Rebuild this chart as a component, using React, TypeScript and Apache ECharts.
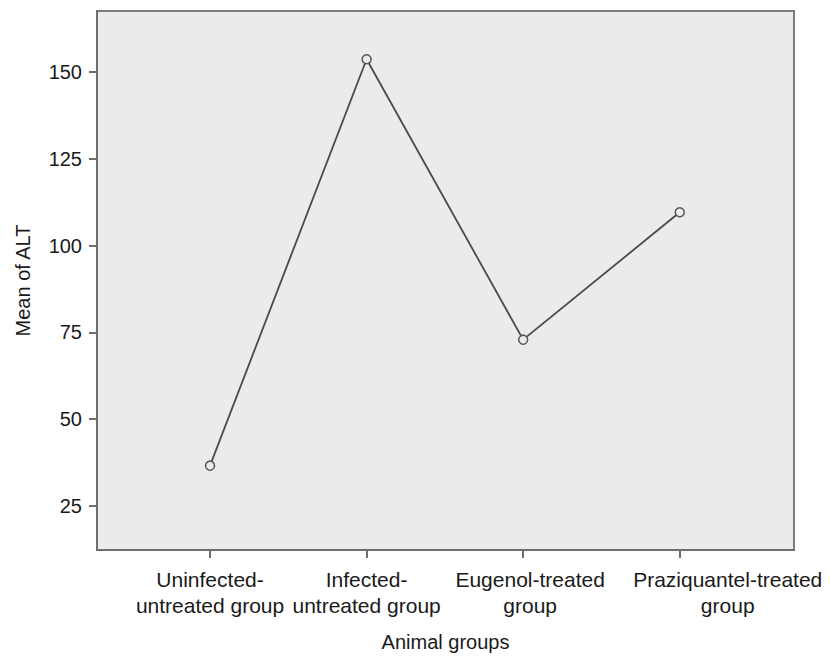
import React, { useEffect, useRef } from "react";
import * as echarts from "echarts";

const categories = [
  ["Uninfected-", "untreated group"],
  ["Infected-", "untreated group"],
  ["Eugenol-treated", "group"],
  ["Praziquantel-treated", "group"],
];
const meanALT = [36.6, 153.7, 72.9, 109.6];
const yTicks = [25, 50, 75, 100, 125, 150];
const xTicks = [0, 1, 2, 3];
const labelStyleKeys = ["c", "c", "e", "p"];

const X_MIN = -0.722;
const X_MAX = 3.73;

export default function App() {
  const ref = useRef<HTMLDivElement>(null);
  useEffect(() => {
    if (!ref.current) return;
    const chart = echarts.init(ref.current, undefined, { renderer: "svg" });
    const font = "Liberation Sans, Arial, sans-serif";
    const base = { fontFamily: font, fontSize: 21, lineHeight: 26, color: "#1a1a1a" };
    chart.setOption({
      animation: false,
      backgroundColor: "#ffffff",
      grid: {
        left: 97,
        right: 36,
        top: 11,
        bottom: 108,
        show: true,
        backgroundColor: "#ebebeb",
        borderColor: "#7c7c7c",
        borderWidth: 2,
      },
      xAxis: {
        type: "value",
        min: X_MIN,
        max: X_MAX,
        name: "Animal groups",
        nameLocation: "middle",
        nameGap: 82,
        nameTextStyle: { fontFamily: font, fontSize: 20, color: "#1a1a1a" },
        axisLine: { show: true, onZero: false, lineStyle: { color: "#6e6e6e", width: 2 } },
        axisTick: {
          show: true,
          length: 8,
          customValues: xTicks,
          lineStyle: { color: "#6e6e6e", width: 2 },
        },
        axisLabel: {
          customValues: [X_MIN, ...xTicks, X_MAX],
          hideOverlap: false,
          margin: 16,
          ...base,
          rich: {
            c: { ...base },
            e: { ...base, padding: [0, 0, 0, 14] },
            p: { ...base, padding: [0, 0, 0, 96] },
          },
          formatter: (v: number) => {
            if (Math.abs(v - Math.round(v)) > 0.01) return "";
            const i = Math.round(v);
            const lines = categories[i];
            if (!lines) return "";
            const k = labelStyleKeys[i];
            return lines.map((l) => `{${k}|${l}}`).join("\n");
          },
        },
        splitLine: { show: false },
      },
      yAxis: {
        type: "value",
        min: 12.3,
        max: 167.6,
        name: "Mean of ALT",
        nameLocation: "middle",
        nameGap: 64,
        nameTextStyle: { fontFamily: font, fontSize: 20, color: "#1a1a1a" },
        axisLine: { show: true, onZero: false, lineStyle: { color: "#6e6e6e", width: 2 } },
        axisTick: {
          show: true,
          length: 8,
          customValues: yTicks,
          lineStyle: { color: "#6e6e6e", width: 2 },
        },
        axisLabel: {
          customValues: yTicks,
          margin: 15,
          fontFamily: font,
          fontSize: 20,
          color: "#1a1a1a",
        },
        splitLine: { show: false },
      },
      series: [
        {
          type: "line",
          data: meanALT.map((v, i) => [xTicks[i], v]),
          symbol: "circle",
          symbolSize: 9,
          itemStyle: { color: "#ebebeb", borderColor: "#555555", borderWidth: 1.5 },
          lineStyle: { color: "#4a4a4a", width: 1.8 },
        },
      ],
    });
    return () => chart.dispose();
  }, []);
  return (
    <div
      ref={ref}
      style={{ position: "fixed", left: 0, top: 0, width: 830, height: 658 }}
    />
  );
}
